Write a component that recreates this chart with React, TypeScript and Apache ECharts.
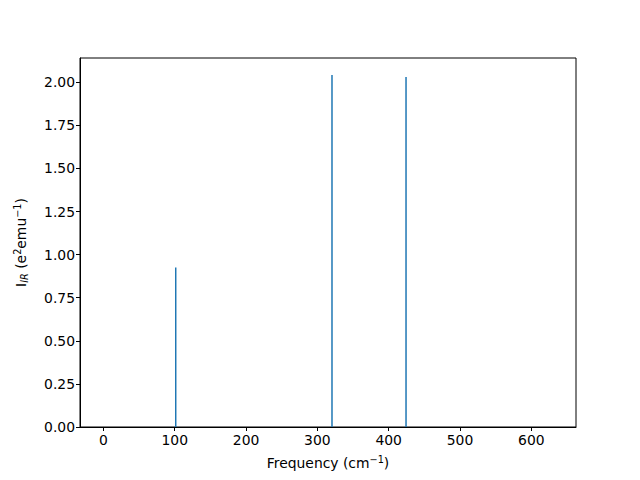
import React, { useEffect, useRef } from "react";
import * as echarts from "echarts";

const frequencies = [101.4, 320.5, 424.3];
const intensities = [0.926, 2.042, 2.031];
const xTicks = [0, 100, 200, 300, 400, 500, 600];
const yTicks = [0, 0.25, 0.5, 0.75, 1.0, 1.25, 1.5, 1.75, 2.0];

export default function App() {
  const ref = useRef<HTMLDivElement>(null);
  useEffect(() => {
    if (!ref.current) return;
    const chart = echarts.init(ref.current, null, { renderer: "svg" });
    const lineData: any[] = [];
    frequencies.forEach((f, i) => {
      lineData.push([f, 0]);
      lineData.push([f, intensities[i]]);
      lineData.push("-");
    });
    const font = "DejaVu Sans";
    chart.setOption({
      animation: false,
      backgroundColor: "#fff",
      textStyle: { fontFamily: font },
      grid: {
        left: 80,
        right: 64,
        top: 58,
        bottom: 53,
        show: true,
        borderColor: "#000",
        borderWidth: 1,
        backgroundColor: "transparent",
      },
      xAxis: {
        type: "value",
        min: -32.8,
        max: 662.6,
        splitLine: { show: false },
        axisLine: { show: true, onZero: false, lineStyle: { color: "#000", width: 1 } },
        axisTick: {
          show: true,
          inside: false,
          length: 4,
          lineStyle: { color: "#000", width: 1 },
          customValues: xTicks,
        },
        axisLabel: {
          color: "#000",
          fontSize: 13.9,
          fontFamily: font,
          margin: 6,
          customValues: xTicks,
          formatter: (v: number) => String(v),
        },
        name: "{n|Frequency (cm}{sup|−1}{n|)}",
        nameLocation: "middle",
        nameGap: 27,
        nameTextStyle: {
          rich: {
            n: { fontSize: 13.9, fontFamily: font, color: "#000", lineHeight: 18 },
            sup: { fontSize: 9.7, fontFamily: font, color: "#000", lineHeight: 18, padding: [0, 0, 8, 0] },
          },
        },
      },
      yAxis: {
        type: "value",
        min: 0,
        max: 2.141,
        splitLine: { show: false },
        axisLine: { show: true, onZero: false, lineStyle: { color: "#000", width: 1 } },
        axisTick: {
          show: true,
          inside: false,
          length: 4,
          lineStyle: { color: "#000", width: 1 },
          customValues: yTicks,
        },
        axisLabel: {
          color: "#000",
          fontSize: 13.9,
          fontFamily: font,
          margin: 5,
          customValues: yTicks,
          formatter: (v: number) => v.toFixed(2),
        },
        name: "{n|I}{sub|IR}{n| (e}{sup|2}{n|emu}{sup|−1}{n|)}",
        nameLocation: "middle",
        nameGap: 50,
        nameRotate: 90,
        nameTextStyle: {
          rich: {
            n: { fontSize: 13.9, fontFamily: font, color: "#000", lineHeight: 18 },
            sub: { fontSize: 9.7, fontFamily: font, fontStyle: "italic", color: "#000", lineHeight: 18, padding: [6, 0, 0, 0] },
            sup: { fontSize: 9.7, fontFamily: font, color: "#000", lineHeight: 18, padding: [0, 0, 8, 0] },
          },
        },
      },
      series: [
        {
          type: "line",
          data: lineData,
          connectNulls: false,
          showSymbol: false,
          symbol: "none",
          lineStyle: { color: "#1f77b4", width: 1.5 },
        },
      ],
    });
    return () => chart.dispose();
  }, []);
  return (
    <div style={{ position: "absolute", left: 0, top: 0 }}>
      <div ref={ref} style={{ width: 640, height: 480 }} />
    </div>
  );
}
